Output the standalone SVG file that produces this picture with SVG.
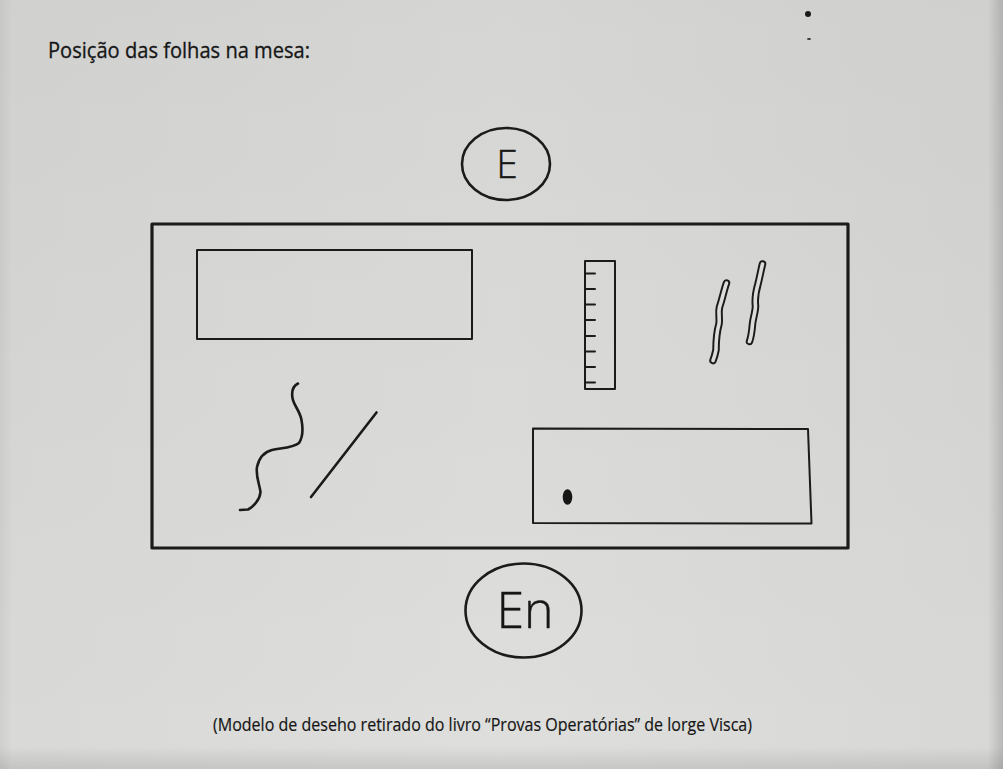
<svg xmlns="http://www.w3.org/2000/svg" width="1003" height="769" viewBox="0 0 1003 769">
  <defs>
    <linearGradient id="bgx" x1="0" y1="0" x2="1" y2="0">
      <stop offset="0" stop-color="#cfcfcd"/>
      <stop offset="0.012" stop-color="#d9d9d7"/>
      <stop offset="0.5" stop-color="#dededc"/>
      <stop offset="0.985" stop-color="#d8d8d6"/>
      <stop offset="1" stop-color="#b8b8b6"/>
    </linearGradient>
    <linearGradient id="bgy" x1="0" y1="0" x2="0" y2="1">
      <stop offset="0" stop-color="#000" stop-opacity="0.04"/>
      <stop offset="0.97" stop-color="#000" stop-opacity="0"/>
      <stop offset="1" stop-color="#000" stop-opacity="0.1"/>
    </linearGradient>
  </defs>
  <style>
    .ln { fill: none; stroke: #1b1b1b; stroke-linecap: round; stroke-linejoin: round; }
    .txt { font-family: "Open Sans", "DejaVu Sans", sans-serif; fill: #161616; }
  </style>
  <rect width="1003" height="769" fill="url(#bgx)"/>
  <rect width="1003" height="769" fill="url(#bgy)"/>

  <g id="title">
    <text class="txt" x="48" y="58" font-size="21" textLength="262" lengthAdjust="spacingAndGlyphs" stroke="#161616" stroke-width="0.3">Posição das folhas na mesa:</text>
  </g>

  <g id="specks">
    <ellipse cx="808" cy="14" rx="3" ry="3" fill="#1b1b1b"/>
    <ellipse cx="809" cy="39" rx="2" ry="1" fill="#333"/>
  </g>

  <g id="node-E">
    <ellipse class="ln" cx="506" cy="164" rx="44" ry="36" stroke-width="2.6"/>
    <text class="txt" x="507" y="178" font-size="39" font-weight="300" text-anchor="middle" stroke="#161616" stroke-width="0.4">E</text>
  </g>

  <g id="table">
    <rect class="ln" x="152" y="224" width="696" height="324" stroke-width="3.2" stroke-linejoin="miter"/>
  </g>

  <g id="sheet-top-left">
    <rect class="ln" x="197" y="250" width="275" height="89" stroke-width="2" stroke-linejoin="miter"/>
  </g>

  <g id="ruler">
    <rect class="ln" x="585" y="261" width="30" height="128" stroke-width="2" stroke-linejoin="miter"/>
    <path class="ln" stroke-width="2" stroke-linecap="butt" d="M585,273.5h10M585,289h10M585,304.5h10M585,320h10M585,336h10M585,351.5h10M585,367h10M585,382.5h10"/>
  </g>

  <g id="worms">
    <path class="ln" stroke-width="7.5" d="M726.5,283 C724,290 722,300 719.5,307 C718,313 720,318 719,324 C717,331 716,342 716,350 C715,355 714,358 713,360.5"/>
    <path fill="none" stroke="#dcdcda" stroke-width="3.6" stroke-linecap="round" stroke-linejoin="round" d="M726.5,283 C724,290 722,300 719.5,307 C718,313 720,318 719,324 C717,331 716,342 716,350 C715,355 714,358 713,360.5"/>
    <path class="ln" stroke-width="7.5" d="M762.5,264 C761,270 760,276 758,284 C756,291 754.5,298 755.5,306 C755.5,312 753,318 752.5,324 C752,330 751.5,336 749.5,341.5"/>
    <path fill="none" stroke="#dcdcda" stroke-width="3.6" stroke-linecap="round" stroke-linejoin="round" d="M762.5,264 C761,270 760,276 758,284 C756,291 754.5,298 755.5,306 C755.5,312 753,318 752.5,324 C752,330 751.5,336 749.5,341.5"/>
  </g>

  <g id="wavy-line">
    <path class="ln" stroke-width="2.6" d="M298,383.5 C293,386 291.5,392 292.5,398 C293.5,405 300,411 301.5,420 C303,428 303,437 299,443 C293,448 281,448 272,450 C264,452 259,458 257,467 C255.5,476 259.5,484 260.5,492 C260,500 253,507 248,509.5 L240,510"/>
  </g>

  <g id="straight-line">
    <path class="ln" stroke-width="2.6" d="M376.5,412.5 L311,497"/>
  </g>

  <g id="sheet-bottom-right">
    <path class="ln" stroke-width="2" stroke-linejoin="miter" d="M533,428.5 L808,429 L811.5,523.5 L533,523 Z"/>
    <ellipse cx="567.5" cy="497" rx="4.8" ry="7.8" fill="#161616"/>
  </g>

  <g id="node-En">
    <ellipse class="ln" cx="523.5" cy="610.5" rx="58" ry="47" stroke-width="2.6"/>
    <text class="txt" x="525" y="628" font-size="50" font-weight="300" text-anchor="middle" stroke="#161616" stroke-width="0.4">En</text>
  </g>

  <g id="caption">
    <text class="txt" x="213" y="731" font-size="19" textLength="539" lengthAdjust="spacingAndGlyphs" stroke="#161616" stroke-width="0.2">(Modelo de deseho retirado do livro “Provas Operatórias” de lorge Visca)</text>
  </g>
</svg>
